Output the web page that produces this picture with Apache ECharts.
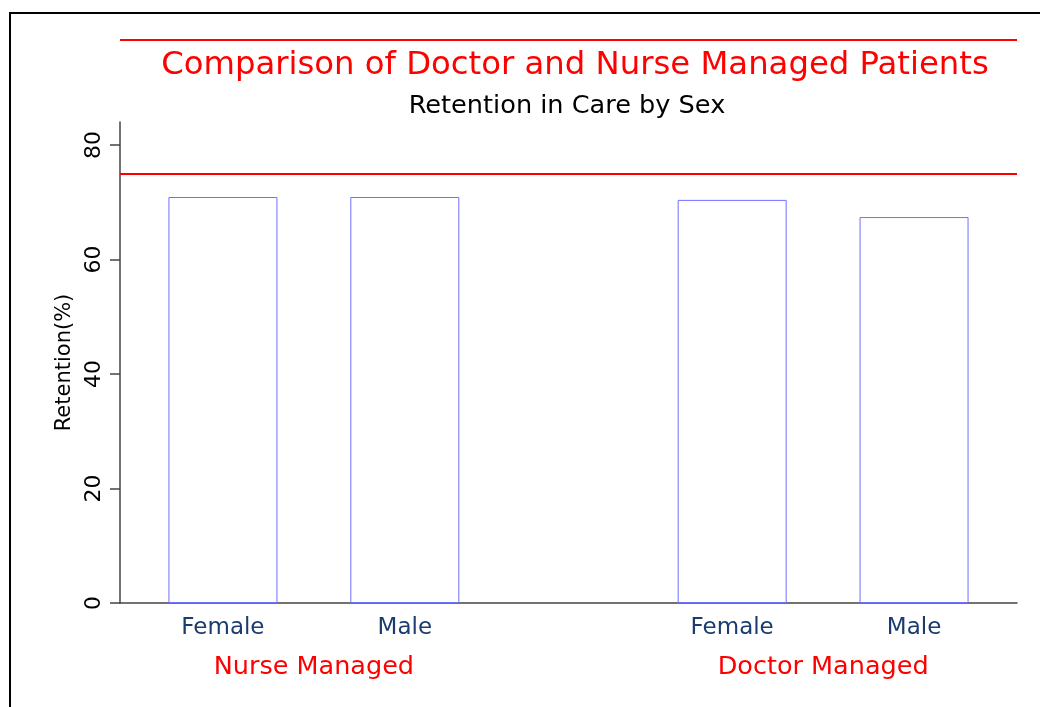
<!DOCTYPE html>
<html>
<head>
<meta charset="utf-8">
<script src="https://cdn.jsdelivr.net/npm/echarts@6/dist/echarts.min.js"></script>
<style>
html,body{margin:0;padding:0;background:#fff;}
#chart{width:1040px;height:707px;}
</style>
</head>
<body>
<div id="chart"></div>
<script>
// ---- data ----
const groups = ['Nurse Managed', 'Doctor Managed'];
const sexes = ['Female', 'Male'];
const retention = [
  [70.9, 70.9],   // Nurse Managed: Female, Male
  [70.4, 67.4]    // Doctor Managed: Female, Male
];
const yTicks = [0, 20, 40, 60, 80];
const targetLine = 75;
const titleText = 'Comparison of Doctor and Nurse Managed Patients';
const subtitleText = 'Retention in Care by Sex';
const yName = 'Retention(%)';

// ---- layout (slot units along the x axis) ----
const outer = 0.566, groupGap = 1.8;
const groupSpan = sexes.length - 1;
const xMax = 2 * outer + groups.length * groupSpan + (groups.length - 1) * groupGap;
function pos(g, s) { return outer + g * (groupSpan + groupGap) + s; }
function key(v) { return Math.round(v * 1000); }

const barData = [];
const sexLabelPos = [];
const sexLabelMap = {};
const groupLabelPos = [];
const groupLabelMap = {};
groups.forEach((g, gi) => {
  sexes.forEach((s, si) => {
    const p = pos(gi, si);
    barData.push([p, retention[gi][si]]);
    sexLabelPos.push(p);
    sexLabelMap[key(p)] = s;
  });
  const c = (pos(gi, 0) + pos(gi, sexes.length - 1)) / 2;
  groupLabelPos.push(c);
  groupLabelMap[key(c)] = g;
});

const FONT = 'DejaVu Sans';
const chart = echarts.init(document.getElementById('chart'), null, {renderer: 'canvas'});
chart.setOption({
  animation: false,
  backgroundColor: '#ffffff',
  title: [
    {text: titleText, left: 570, top: 45, textAlign: 'center',
     textStyle: {color: '#ff0000', fontFamily: FONT, fontSize: 32.3, fontWeight: 'normal'}},
    {text: subtitleText, left: 562, top: 88, textAlign: 'center',
     textStyle: {color: '#000000', fontFamily: FONT, fontSize: 25.6, fontWeight: 'normal'}}
  ],
  graphic: [
    {type: 'rect', shape: {x: 10, y: 13, width: 1200, height: 900},
     style: {fill: 'none', stroke: '#000', lineWidth: 2}, silent: true},
    {type: 'line', shape: {x1: 120, y1: 40, x2: 1017, y2: 40},
     style: {stroke: '#ff0000', lineWidth: 2}, silent: true}
  ],
  grid: {left: 120, right: 23, top: 122, bottom: 104, containLabel: false, outerBoundsMode: 'none'},
  xAxis: [
    {type: 'value', min: 0, max: xMax, position: 'bottom',
     axisLine: {show: true, onZero: false, lineStyle: {color: '#444', width: 1.5}},
     axisTick: {show: false},
     splitLine: {show: false},
     axisLabel: {customValues: sexLabelPos, margin: 14, color: '#1a3c6e',
       fontFamily: FONT, fontSize: 23,
       formatter: v => sexLabelMap[key(v)] || ''}},
    {type: 'value', min: 0, max: xMax, position: 'bottom',
     axisLine: {show: false}, axisTick: {show: false}, splitLine: {show: false},
     axisLabel: {customValues: groupLabelPos, margin: 51, color: '#ff0000',
       fontFamily: FONT, fontSize: 25.5,
       formatter: v => groupLabelMap[key(v)] || ''}}
  ],
  yAxis: {
    type: 'value', min: 0, max: 84,
    name: yName, nameLocation: 'middle', nameGap: 45,
    nameTextStyle: {color: '#000', fontFamily: FONT, fontSize: 21},
    axisLine: {show: true, lineStyle: {color: '#444', width: 1.5}},
    axisTick: {show: true, length: 10, customValues: yTicks, lineStyle: {color: '#444', width: 1.5}},
    axisLabel: {customValues: yTicks, rotate: 90, margin: 15, color: '#000',
      fontFamily: FONT, fontSize: 22},
    splitLine: {show: false}
  },
  series: [{
    type: 'bar',
    xAxisIndex: 0,
    data: barData,
    barWidth: 109,
    itemStyle: {color: '#ffffff', borderColor: '#7070ff', borderWidth: 1},
    markLine: {
      silent: true, symbol: 'none', label: {show: false},
      lineStyle: {color: '#ff0000', width: 2, type: 'solid'},
      data: [{yAxis: targetLine}]
    }
  }]
});
</script>
</body>
</html>
